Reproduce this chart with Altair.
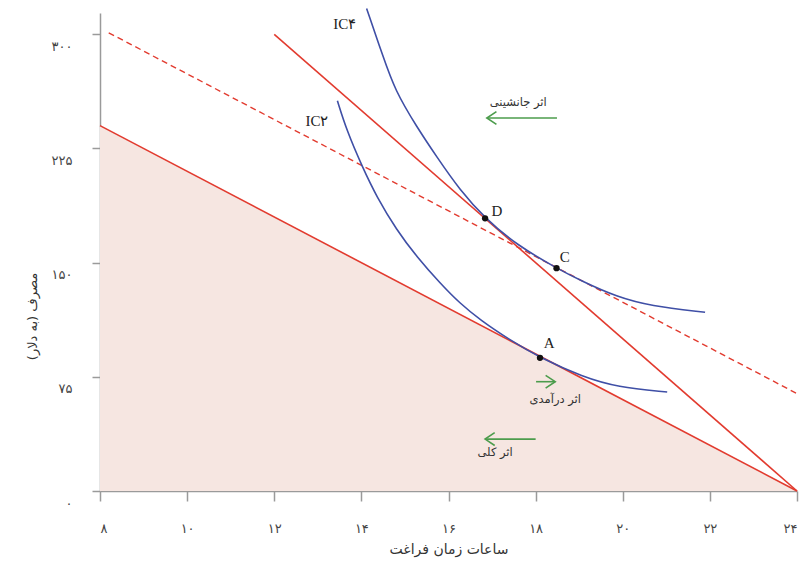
import altair as alt
import pandas as pd

# ---------------- data ----------------
# budget lines (x = leisure hours, y = consumption $)
budget_x = [8, 24]
budget_y = [240, 0]          # original wage 15
steep_x = [12, 24]
steep_y = [300, 0]           # higher wage 25
dashed_x = [8.2, 24]
dashed_y = [301, 64]         # compensated line (slope 15)

# indifference curves
ic2_x = [13.45, 13.66, 14.02, 14.35, 14.81, 15.27, 15.81, 16.26, 16.73, 17.41, 18.10, 19.09, 19.87, 21.02]
ic2_y = [256.3, 237.1, 213.0, 193.3, 171.4, 153.9, 136.4, 123.3, 112.3, 99.2, 87.5, 74.9, 68.3, 65.0]
ic4_x = [14.12, 14.50, 14.77, 15.27, 15.73, 16.26, 16.84, 17.57, 18.48, 19.09, 19.86, 20.63, 21.89]
ic4_y = [317.0, 285.2, 263.3, 239.2, 219.5, 197.7, 179.1, 161.5, 146.4, 137.4, 127.6, 121.5, 117.4]

# points
pt_names = ["A", "D", "C"]
pt_x = [18.10, 16.84, 18.48]
pt_y = [87.5, 179.1, 146.4]
pt_label_x = [18.31, 17.11, 18.67]
pt_label_y = [97.2, 183.9, 153.7]

# curve labels
ic_names = ["IC۴", "IC۲"]
ic_label_x = [13.62, 12.98]
ic_label_y = [306.7, 243.0]

# effect arrows
arrow_names = ["اثر جانشینی", "اثر درآمدی", "اثر کلی"]
arrow_x_start = [18.49, 18.01, 18.00]
arrow_x_end = [16.88, 18.45, 16.84]
arrow_y = [245.0, 71.8, 34.1]
arrow_label_x = [17.60, 18.45, 17.07]
arrow_label_y = [254.8, 59.8, 25.0]

x_ticks = [8, 10, 12, 14, 16, 18, 20, 22, 24]
x_tick_labels = ["۸", "۱۰", "۱۲", "۱۴", "۱۶", "۱۸", "۲۰", "۲۲", "۲۴"]
y_ticks = [0, 75, 150, 225, 300]
y_tick_labels = ["۰", "۷۵", "۱۵۰", "۲۲۵", "۳۰۰"]

x_title = "ساعات زمان فراغت"
y_title = "مصرف (به دلار)"

# ---------------- helpers ----------------
def label_expr(vals, labs):
    expr = "''"
    for v, l in reversed(list(zip(vals, labs))):
        expr = f"datum.value == {v} ? '{l}' : " + expr
    return expr

RED = "#e23b2f"
BLUE = "#3f4fa6"
GREEN = "#4c9c4c"
FILL = "#f6e6e1"
AXIS = "#9a9a9a"
FA_FONT = "DejaVu Sans"
SERIF = "Liberation Serif"

xs = alt.Scale(domain=[8, 24], nice=False, zero=False)
ys = alt.Scale(domain=[0, 314], nice=False)

x_axis = alt.Axis(values=x_ticks, labelExpr=label_expr(x_ticks, x_tick_labels),
                  title=x_title, grid=False, tickSize=10, labelPadding=27,
                  labelBaseline="middle", labelFontSize=13, labelColor="#444",
                  labelFont=FA_FONT, titleFont=FA_FONT, titleFontSize=14,
                  titleFontWeight="normal", titleColor="#333", titleY=58,
                  titleBaseline="middle", domainColor=AXIS, tickColor=AXIS,
                  domainWidth=1.5, tickWidth=1.5)
y_axis = alt.Axis(values=y_ticks, labelExpr=label_expr(y_ticks, y_tick_labels),
                  title=y_title, grid=False, tickSize=8, labelPadding=20,
                  labelOffset=12, labelFontSize=13, labelColor="#444",
                  labelFont=FA_FONT, titleFont=FA_FONT, titleFontSize=13,
                  titleFontWeight="normal", titleColor="#333", titleX=-68,
                  titleY=303, titleAngle=-90, titleAlign="center",
                  titleBaseline="middle", domainColor=AXIS, tickColor=AXIS,
                  domainWidth=1.5, tickWidth=1.5)

budget_df = pd.DataFrame({"x": budget_x, "y": budget_y})
steep_df = pd.DataFrame({"x": steep_x, "y": steep_y})
dashed_df = pd.DataFrame({"x": dashed_x, "y": dashed_y})
ic2_df = pd.DataFrame({"x": ic2_x, "y": ic2_y})
ic4_df = pd.DataFrame({"x": ic4_x, "y": ic4_y})
pts_df = pd.DataFrame({"name": pt_names, "x": pt_x, "y": pt_y,
                       "lx": pt_label_x, "ly": pt_label_y})
icl_df = pd.DataFrame({"name": ic_names, "x": ic_label_x, "y": ic_label_y})
arr_df = pd.DataFrame({"name": arrow_names, "x1": arrow_x_start, "x2": arrow_x_end,
                       "y": arrow_y, "lx": arrow_label_x, "ly": arrow_label_y})
arr_df["head"] = [("M1.2,-0.8L0,0L1.2,0.8" if e < s else "M-1.2,-0.8L0,0L-1.2,0.8")
                  for s, e in zip(arrow_x_start, arrow_x_end)]

area = alt.Chart(budget_df).mark_area(color=FILL, opacity=1).encode(
    x=alt.X("x:Q", scale=xs, axis=x_axis),
    y=alt.Y("y:Q", scale=ys, axis=y_axis),
)
budget = alt.Chart(budget_df).mark_line(color=RED, strokeWidth=1.6).encode(
    x=alt.X("x:Q", scale=xs), y=alt.Y("y:Q", scale=ys))
steep = alt.Chart(steep_df).mark_line(color=RED, strokeWidth=1.6).encode(
    x=alt.X("x:Q", scale=xs), y=alt.Y("y:Q", scale=ys))
dashed = alt.Chart(dashed_df).mark_line(color=RED, strokeWidth=1.4, strokeDash=[6, 4]).encode(
    x=alt.X("x:Q", scale=xs), y=alt.Y("y:Q", scale=ys))
ic2 = alt.Chart(ic2_df).mark_line(color=BLUE, strokeWidth=1.6, interpolate="basis").encode(
    x=alt.X("x:Q", scale=xs), y=alt.Y("y:Q", scale=ys))
ic4 = alt.Chart(ic4_df).mark_line(color=BLUE, strokeWidth=1.6, interpolate="basis").encode(
    x=alt.X("x:Q", scale=xs), y=alt.Y("y:Q", scale=ys))

dots = alt.Chart(pts_df).mark_point(filled=True, color="#111", size=40, opacity=1).encode(
    x=alt.X("x:Q", scale=xs), y=alt.Y("y:Q", scale=ys))
dot_labels = alt.Chart(pts_df).mark_text(font=SERIF, fontSize=15, color="#222").encode(
    x=alt.X("lx:Q", scale=xs), y=alt.Y("ly:Q", scale=ys), text="name:N")
ic_labels = alt.Chart(icl_df).mark_text(font=SERIF, fontSize=15, color="#222").encode(
    x=alt.X("x:Q", scale=xs), y=alt.Y("y:Q", scale=ys), text="name:N")

shafts = alt.Chart(arr_df).mark_rule(color=GREEN, strokeWidth=1.6).encode(
    x=alt.X("x1:Q", scale=xs), x2="x2:Q", y=alt.Y("y:Q", scale=ys))
heads = alt.Chart(arr_df).mark_point(color=GREEN, filled=False, size=256,
                                     strokeWidth=1.6, opacity=1).encode(
    x=alt.X("x2:Q", scale=xs), y=alt.Y("y:Q", scale=ys),
    shape=alt.Shape("head:N", scale=None))
arrow_labels = alt.Chart(arr_df).mark_text(font=FA_FONT, fontSize=11.5, color="#333").encode(
    x=alt.X("lx:Q", scale=xs), y=alt.Y("ly:Q", scale=ys), text="name:N")

chart = alt.layer(area, budget, steep, dashed, ic2, ic4, shafts, heads,
                  dots, dot_labels, ic_labels, arrow_labels).properties(
    width=697, height=478,
    autosize=alt.AutoSizeParams(type="none"),
    padding={"left": 92, "top": 5, "right": 5, "bottom": 70},
    background="white",
).configure_view(stroke=None)

chart.save("out.html", embed_options={"renderer": "svg", "actions": False})
